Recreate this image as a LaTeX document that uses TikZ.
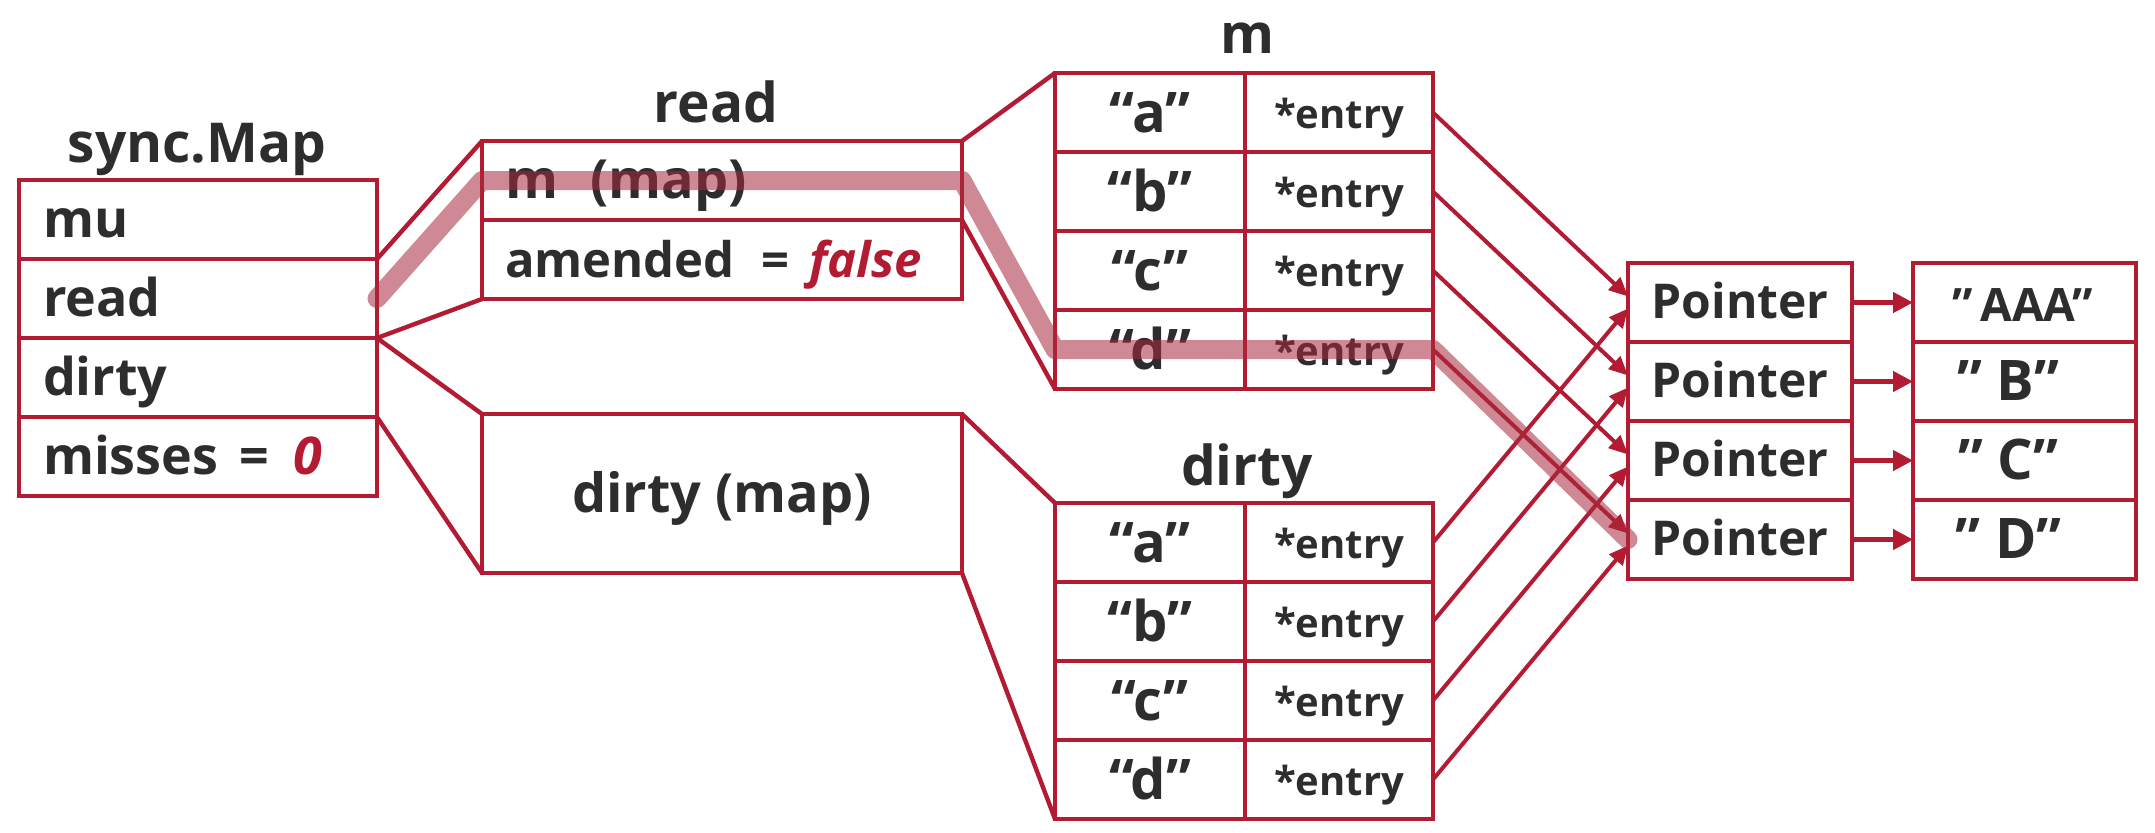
\documentclass[tikz,border=0pt]{standalone}
\usepackage{fontspec}
\setmainfont{Open Sans}
\usetikzlibrary{arrows.meta,positioning}

\definecolor{mapred}{RGB}{178,27,50}
\definecolor{ink}{RGB}{45,45,45}

\tikzset{
  mbox/.style={draw=mapred, line width=2.4pt, outer sep=0pt, inner sep=0pt, text=ink, minimum height=39.5pt},
  field/.style={mbox, inner xsep=12pt, text width=155pt, align=left, font=\bfseries\fontsize{26}{30}\selectfont, text height=19pt, text depth=1.5pt},
  rfield/.style={field, inner xsep=11.5pt, text width=217pt, font=\bfseries\fontsize{24.5}{30}\selectfont},
  keycell/.style={mbox, minimum width=95pt, font=\bfseries\fontsize{28}{32}\selectfont, text height=21pt, text depth=1.5pt},
  entcell/.style={mbox, minimum width=94pt, font=\bfseries\fontsize{20}{24}\selectfont, text height=17pt, text depth=1.5pt},
  ptrcell/.style={mbox, minimum width=112pt, font=\bfseries\fontsize{24}{28}\selectfont, text height=17pt, text depth=1.5pt},
  valcell/.style={mbox, minimum width=111.5pt, text height=20pt, text depth=1.5pt},
  heading/.style={text=ink, anchor=base, font=\bfseries\fontsize{27.5}{32}\selectfont},
  wire/.style={draw=mapred, line width=2.2pt},
  ptr/.style={draw=mapred, line width=2pt, -{Triangle[length=9.5pt,width=8.5pt]}},
  ptrv/.style={draw=mapred, line width=2.2pt, -{Triangle[length=10pt,width=10pt]}},
  hilite/.style={draw={rgb,255:red,168;green,40;blue,60}, draw opacity=0.55, line width=9.5pt, line cap=round, line join=round},
}

\begin{document}
\begin{tikzpicture}[x=0.5pt,y=-0.5pt]
\useasboundingbox (0,0) rectangle (2155,832);

% sync.Map
\node[heading] (sm) at (197,162) {sync.Map};
\node[field] (sm-mu) at (198,219.5) {mu};
\node[field,below=0pt of sm-mu] (sm-read) {read};
\node[field,below=0pt of sm-read] (sm-dirty) {dirty};
\node[field,below=0pt of sm-dirty] (sm-miss) {misses\hspace{0.42em}=\hspace{0.45em}\textcolor{mapred}{\itshape 0}};

% read / dirty
\node[heading] (rd) at (716,122) {read};
\node[rfield,font=\bfseries\fontsize{27}{32}\selectfont] (rd-m) at (722,180.5) {m\hspace{0.6em}(map)};
\node[rfield,below=0pt of rd-m] (rd-am) {amended\hspace{0.55em}=\hspace{0.4em}\textcolor{mapred}{\itshape false}};
\node[mbox,minimum width=240pt,minimum height=79.5pt,font=\bfseries\fontsize{27}{32}\selectfont,text height=20pt,text depth=1.5pt] (dm) at (722,493.5) {dirty (map)};

% m and dirty tables
\node[heading] (mt) at (1247,53) {m};
\node[heading] (dt) at (1247,485) {dirty};
\foreach \k [count=\i] in {a,b,c,d} {
  \node[keycell] (mk\i) at (1150,{112.5+79*(\i-1)}) {“\k”};
  \node[entcell,right=0pt of mk\i] (mv\i) {*entry};
  \node[keycell] (dk\i) at (1150,{542.5+79*(\i-1)}) {“\k”};
  \node[entcell,right=0pt of dk\i] (dv\i) {*entry};
}

% pointers and values
\foreach \v/\fs/\sh [count=\i] in {{”\,AAA”}/23/2pt,{” B”}/28/16pt,{” C”}/28/16pt,{” D”}/28/16pt} {
  \node[ptrcell] (p\i) at (1740,{302.5+79*(\i-1)}) {Pointer};
  \node[valcell,right=30.5pt of p\i,font=\bfseries\fontsize{\fs}{\fs}\selectfont] (v\i) {\v\kern\sh};
}

% connectors
\draw[wire] (sm-read.north east) -- (rd-m.north west);
\draw[wire] (sm-dirty.north east) -- (rd-am.south west);
\draw[wire] (sm-dirty.north east) -- (dm.north west);
\draw[wire] (sm-miss.north east) -- (dm.south west);
\draw[wire] (rd-m.north east) -- (mk1.north west);
\draw[wire] (rd-m.south east) -- (mk4.south west);
\draw[wire] (dm.north east) -- (dk1.north west);
\draw[wire] (dm.south east) -- (dk4.south west);

\foreach \i in {1,...,4} {
  \draw[ptr] (mv\i.east) -- ([yshift=3pt]p\i.west);
  \draw[ptr] (dv\i.east) -- ([yshift=-3pt]p\i.west);
  \draw[ptrv] (p\i.east) -- (v\i.west);
}

% lookup path
\draw[hilite] (sm-read.east) -- (rd-m.west) -- (rd-m.east) -- (mk4.west) -- (mv4.east) -- (p4.west);
\end{tikzpicture}
\end{document}
